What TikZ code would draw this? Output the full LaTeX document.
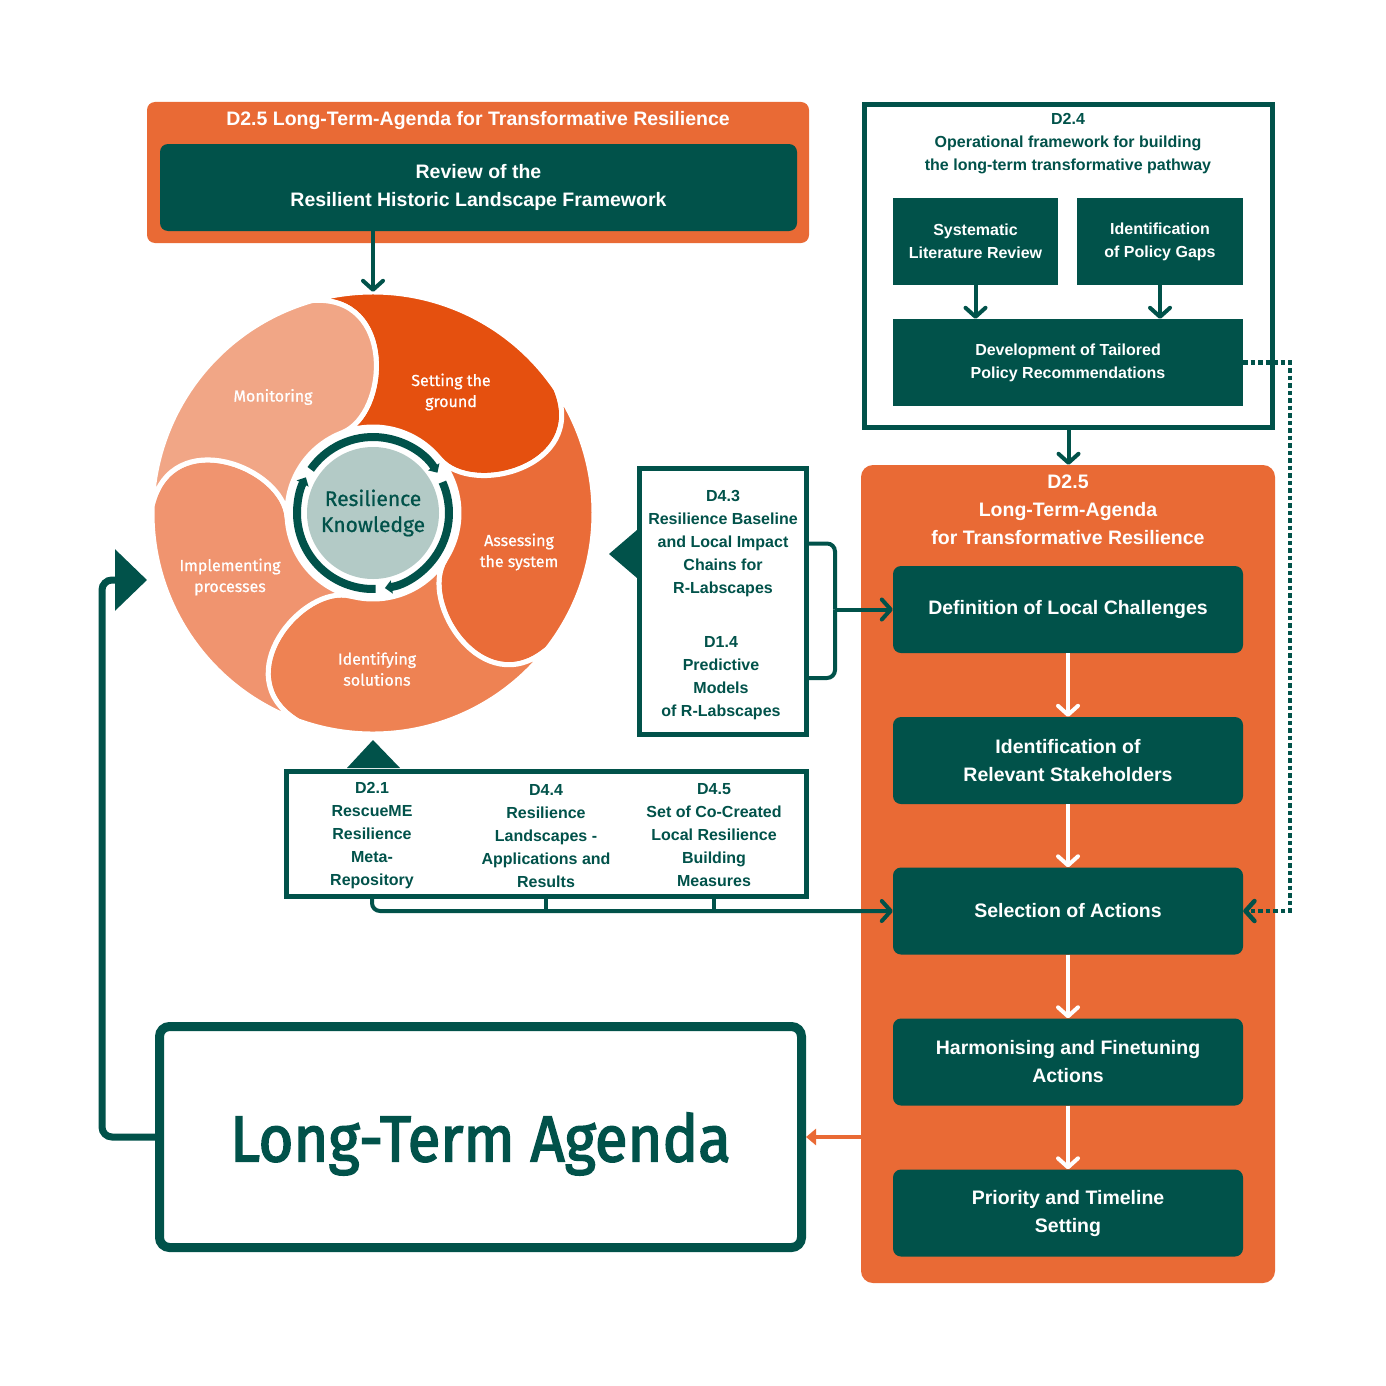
\documentclass[tikz,border=0pt]{standalone}
\usepackage{fontspec}
\setmainfont{Liberation Sans}
\newfontfamily\wheelfont{Fira Sans}[FakeBold=0.8]
\newfontfamily\agendafont{Fira Sans}[FakeBold=2.5, FakeStretch=0.92]
\usetikzlibrary{arrows.meta}

\definecolor{rescue green}{HTML}{01524A}
\definecolor{rescue orange}{HTML}{E96A35}
\definecolor{knowledge fill}{HTML}{B3CAC6}
\definecolor{phase setting}{HTML}{E5500F}
\definecolor{phase assessing}{HTML}{EA6C38}
\definecolor{phase identifying}{HTML}{EE8253}
\definecolor{phase implementing}{HTML}{F0946F}
\definecolor{phase monitoring}{HTML}{F1A686}
\tikzset{
    x={1pt},
    y={-1pt},
    chevron/.tip={Straight Barb[length=9pt,width=20pt,round]},
    line/.style={
        draw=rescue green,
        line width={4pt},
    },
    link/.style={
        line,
        -chevron,
    },
    white link/.style={
        link,
        draw=white,
    },
    dotted link/.style={
        link,
        line width={4.5pt},
        dash pattern=on 4.5pt off 3pt,
    },
    agenda link/.style={
        draw=rescue orange,
        line width={4pt},
        -{Triangle[length=10pt,width=16pt]},
    },
    feedback/.style={
        draw=rescue green,
        line width={7pt},
        rounded corners={10pt},
        -{Triangle[length=32pt,width=60pt]},
    },
    petal/.style={
        draw=white,
        line width={5pt},
        line join=round,
    },
    ring arc/.style={
        draw=rescue green,
        line width={8pt},
        -{Triangle[length=7pt,width=13pt]},
    },
    knowledge/.style={
        circle, fill=knowledge fill,
        minimum size={132},
        inner sep=0pt,
        align=center,
        text=rescue green,
        font={\wheelfont\fontsize{21}{26}\selectfont},
    },
    phase label/.style={
        align=center,
        text=white,
        font={\wheelfont\fontsize{16}{21}\selectfont},
    },
    orange panel/.style={
        fill=rescue orange,
        rounded corners={8pt},
        inner sep=0pt,
    },
    panel title/.style={
        align=center,
        text=white,
        font={\bfseries\fontsize{19.5}{28}\selectfont},
    },
    frame box/.style={
        draw=rescue green, fill=white,
        line width={5pt},
        inner sep=0pt,
    },
    frame text/.style={
        align=center,
        text=rescue green,
        inner sep=0pt,
        font={\bfseries\fontsize{16}{23}\selectfont},
    },
    task box/.style={
        fill=rescue green,
        text=white,
        align=center,
        inner sep=0pt,
        minimum height={87},
        font={\bfseries\fontsize{16}{23}\selectfont},
    },
    step box/.style={
        task box,
        rounded corners={8pt},
        minimum width={350},
        font={\bfseries\fontsize{19.5}{28}\selectfont},
    },
    agenda box/.style={
        draw=rescue green, fill=white,
        line width={9pt},
        rounded corners={10pt},
        minimum width={642},
        minimum height={221},
        text depth=0pt,
        text=rescue green,
        font={\agendafont\fontsize{65}{67}\selectfont},
    },
}

\begin{document}
\begin{tikzpicture}
\useasboundingbox[fill=white] (0,0) rectangle (1386,1386);
% wheel of phases
\node[circle, minimum size={442}, inner sep=0pt] (wheel) at (373,513) {};
\begin{scope}[shift={(wheel.center)}]
\foreach \a/\phase in {254/setting,326/assessing,398/identifying,470/implementing,542/monitoring}{
    \path[petal, fill=phase \phase] (\a:221) arc[start angle=\a, end angle=\a+72, radius=221]
        .. controls ({\a+94}:220) and ({\a+97}:100) .. ({\a+67}:86)
        arc[start angle=\a+67, end angle=\a-5, radius=86]
        .. controls ({\a+25}:100) and ({\a+22}:220) .. (\a:221) -- cycle;
}
\foreach \s/\e in {215/328,336/441,88/208}
    \draw[ring arc] (\s:76) arc[start angle=\s, end angle=\e, radius=76];
\end{scope}
\node[knowledge] (knowledge) at (wheel.center) {Resilience\\Knowledge};
\node[phase label] (lblmonitoring) at (273,397) {Monitoring};
\node[phase label] (lblsetting) at (451,392) {Setting the\\ground};
\node[phase label] (lblassessing) at (519,552) {Assessing\\the system};
\node[phase label] (lblidentifying) at (377,669) {Identifying\\solutions};
\node[phase label] (lblimplementing) at (230,577) {Implementing\\processes};
% top review panel
\node[orange panel, minimum width={662}, minimum height={141}] (topagenda) at (478,172.5) {};
\node[panel title] (topagendatitle) at (478,121) {D2.5 Long-Term-Agenda for Transformative Resilience};
\node[step box, minimum width={637}] (review) at (478.5,187.5) {Review of the\\Resilient Historic Landscape Framework};
% D2.4 framework
\node[frame box, minimum width={408}, minimum height={323}] (operational) at (1068.5,266) {};
\node[frame text] (operationaltitle) at (1068,144) {D2.4\\Operational framework for building\\the long-term transformative pathway};
\node[task box, minimum width={165}] (litreview) at (975.5,241.5) {Systematic\\Literature Review};
\node[task box, minimum width={166}] (policygaps) at (1160,241.5) {Identification\\of Policy Gaps};
\node[task box, minimum width={350}] (tailored) at (1068,362.5) {Development of Tailored\\Policy Recommendations};
% D2.5 agenda steps
\node[orange panel, rounded corners={12pt}, minimum width={414}, minimum height={818}] (agenda) at (1068,874) {};
\node[panel title] (agendatitle) at (1068,510) {D2.5\\Long-Term-Agenda\\for Transformative Resilience};
\node[step box] (challenges) at (1068,609.5) {Definition of Local Challenges};
\node[step box] (stakeholders) at (1068,760.5) {Identification of\\Relevant Stakeholders};
\node[step box] (selection) at (1068,911) {Selection of Actions};
\node[step box] (harmonising) at (1068,1062) {Harmonising and Finetuning\\Actions};
\node[step box] (priority) at (1068,1213) {Priority and Timeline\\Setting};
% deliverables
\node[frame box, minimum width={167}, minimum height={266}] (baseline) at (723,601.5) {};
\node[frame text] (dthree) at (723,543.5) {D4.3\\Resilience Baseline\\and Local Impact\\Chains for\\R-Labscapes};
\node[frame text] (donefour) at (721,678) {D1.4\\Predictive\\Models\\of R-Labscapes};
\node[frame box, minimum width={520}, minimum height={125}] (outputs) at (546.5,834) {};
\node[frame text] (rescueme) at (372,836) {D2.1\\RescueME\\Resilience\\Meta-\\Repository};
\node[frame text] (landscapes) at (546,836) {D4.4\\Resilience\\Landscapes -\\Applications and\\Results};
\node[frame text] (measures) at (714,835) {D4.5\\Set of Co-Created\\Local Resilience\\Building\\Measures};
\node[agenda box] (longterm) at (480.5,1137) {Long-Term Agenda};
% pointers into the wheel
\fill[rescue green] (baseline.west |- 0,530) -- (609,554) -- (baseline.west |- 0,578) -- cycle;
\fill[rescue green] (347,768) -- (373,740) -- (400,768) -- cycle;
% connectors
\coordinate (bracejoin) at (835,609.5);
\coordinate (dotturn) at (1290,362.5);
\coordinate (loopturn) at (102,580);
\coordinate (wheelin) at (147,580);
\draw[link] (review.south -| wheel.north) -- (wheel.north);
\draw[link] (litreview.south) -- (litreview.south |- tailored.north);
\draw[link] (policygaps.south) -- (policygaps.south |- tailored.north);
\draw[link] (operational.south) -- (operational.south |- agenda.north);
\draw[dotted link] (tailored.east) -- (dotturn) |- (selection.east);
\foreach \from/\to in {challenges/stakeholders,stakeholders/selection,selection/harmonising,harmonising/priority}
    \draw[white link] (\from.south) -- (\to.north);
\draw[line, rounded corners={8pt}] (dthree -| baseline.east) -| (bracejoin);
\draw[line, rounded corners={8pt}] (donefour -| baseline.east) -| (bracejoin);
\draw[link] (bracejoin) -- (challenges.west);
\draw[link, rounded corners={8pt}] (rescueme |- outputs.south) |- (selection.west);
\draw[line] (landscapes |- outputs.south) -- (landscapes |- selection.west);
\draw[line] (measures |- outputs.south) -- (measures |- selection.west);
\draw[agenda link] (agenda.west |- longterm.east) -- (longterm.east);
\draw[feedback] (longterm.west) -| (loopturn) -- (wheelin);
\end{tikzpicture}
\end{document}
